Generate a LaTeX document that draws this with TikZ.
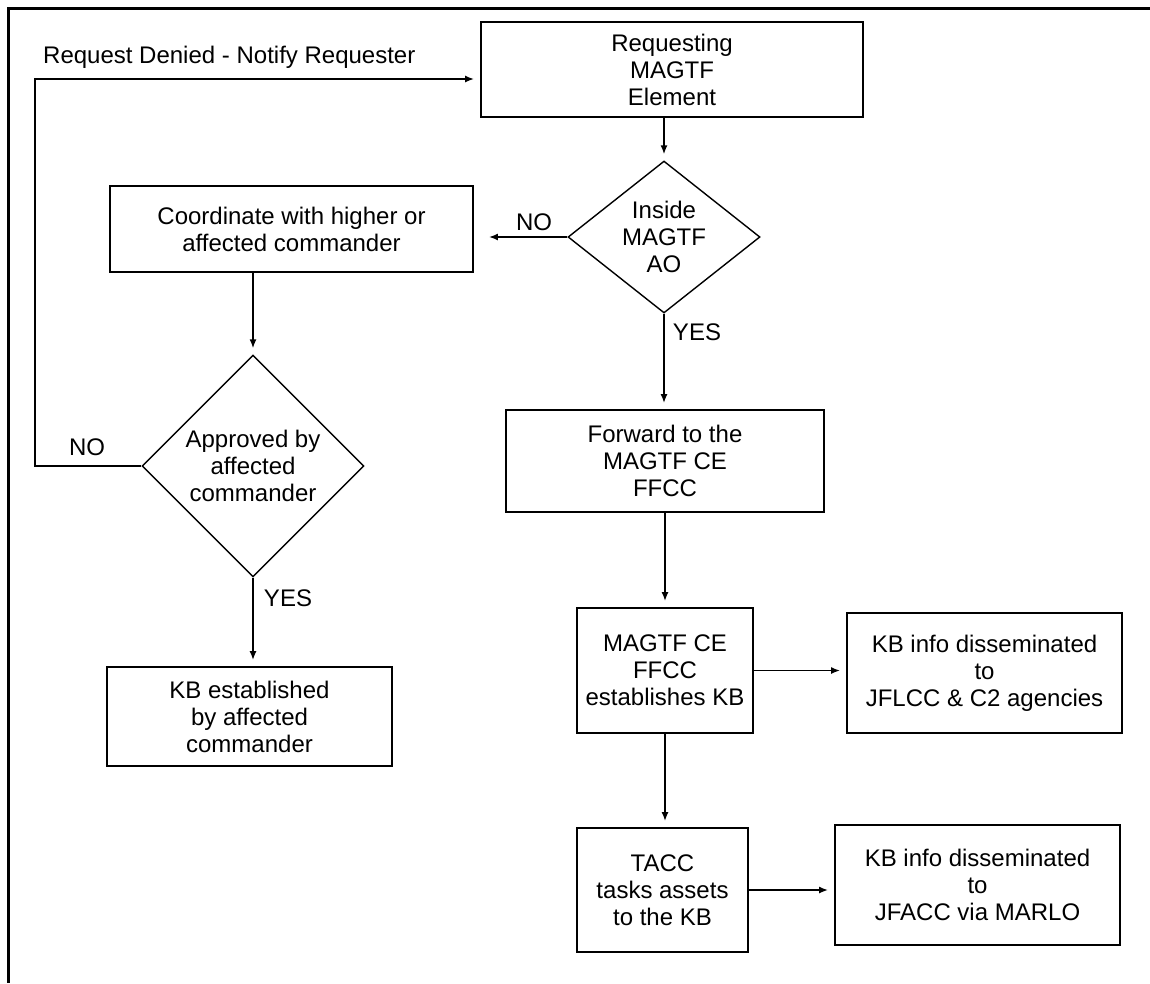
\documentclass[tikz,border=0pt]{standalone}
\usepackage{fontspec}
\setmainfont{Liberation Sans}
\usetikzlibrary{shapes.geometric,arrows.meta}
\begin{document}
\begin{tikzpicture}[x=1pt,y=-1pt,
  every node/.style={font=\fontsize{24}{27}\selectfont, align=center},
  box/.style={draw, line width=1.9pt, inner sep=0pt},
  dia/.style={draw, diamond, line width=1.4pt, inner sep=0pt},
  arr/.style={line width=1.5pt, -{Latex[length=9pt,width=7pt]}, shorten >=6pt},
  lbl/.style={inner sep=0pt}]
\useasboundingbox (0,0) rectangle (1150,983);
\draw[line width=3pt] (1150,8) -- (8,8) -- (8,983);

\node[box, minimum width=382pt, minimum height=95pt] (req) at (672,69.5) {Requesting\\MAGTF\\Element};
\node[dia, minimum width=192pt, minimum height=152pt, aspect=1.26] (inside) at (664,237) {Inside\\MAGTF\\AO};
\node[box, minimum width=363pt, minimum height=86pt] (coord) at (291.5,229) {Coordinate with higher or\\affected commander};
\node[dia, minimum width=222pt, minimum height=222pt, aspect=1] (approved) at (253,466) {Approved by\\affected\\commander};
\node[box, minimum width=285pt, minimum height=99pt] (kbest) at (249.5,716.5) {KB established\\by affected\\commander};
\node[box, minimum width=318pt, minimum height=102pt] (fwd) at (665,461) {Forward to the\\MAGTF CE\\FFCC};
\node[box, minimum width=176pt, minimum height=125pt] (ce) at (665,670.5) {MAGTF CE\\FFCC\\establishes KB};
\node[box, minimum width=275pt, minimum height=120pt] (kb1) at (984.5,673) {KB info disseminated\\to\\JFLCC \& C2 agencies};
\node[box, minimum width=171pt, minimum height=124pt] (tacc) at (662.5,890) {TACC\\tasks assets\\to the KB};
\node[box, minimum width=285pt, minimum height=120pt] (kb2) at (977.5,885) {KB info disseminated\\to\\JFACC via MARLO};

\node[lbl, anchor=west] (denied) at (43,57) {Request Denied - Notify Requester};
\node[lbl] (no1) at (534,222) {NO};
\node[lbl] (no2) at (87,447) {NO};
\node[lbl] (yes1) at (697,332) {YES};
\node[lbl] (yes2) at (288,598) {YES};

\coordinate (lp) at (35,79);

\draw[arr] (inside.north |- req.south) -- (inside.north);
\draw[arr, shorten >=15pt] (inside.west) -- (coord.east |- inside.west);
\draw[arr] (inside.south) -- (inside.south |- fwd.north);
\draw[arr] (approved.north |- coord.south) -- (approved.north);
\draw[arr] (approved.south) -- (approved.south |- kbest.north);
\draw[arr] (approved.west) -| (lp) -- (lp -| req.west);
\draw[arr] (fwd.south) -- (ce.north);
\draw[arr] (ce.south) -- (ce.south |- tacc.north);
\draw[arr] (ce.east) -- (ce.east -| kb1.west);
\draw[arr] (tacc.east) -- (tacc.east -| kb2.west);
\end{tikzpicture}
\end{document}
